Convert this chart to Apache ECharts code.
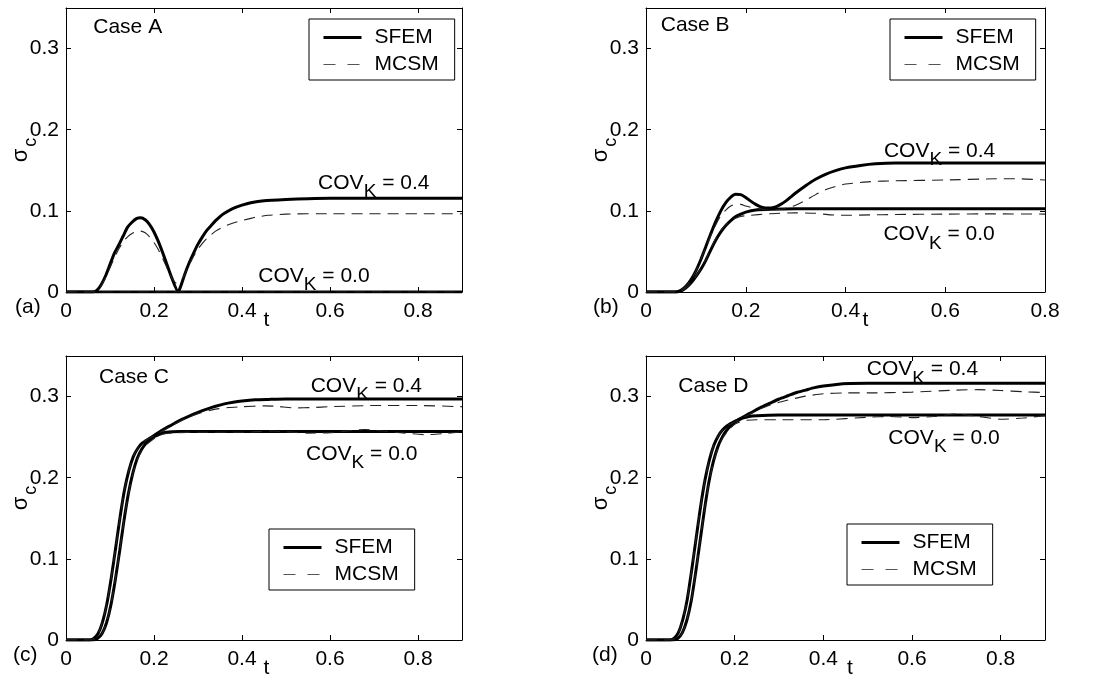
<!DOCTYPE html>
<html><head><meta charset="utf-8">
<script src="https://cdn.jsdelivr.net/npm/echarts@6/dist/echarts.min.js"></script>
<style>html,body{margin:0;padding:0;background:#fff}#c{width:1098px;height:680px}</style>
</head><body><div id="c"></div>
<script>
// ---------------- DATA ----------------
// Case A
const tA_SFEM_04 = [0,0.06,0.07,0.08,0.09,0.10,0.11,0.12,0.13,0.14,0.15,0.16,0.17,0.18,0.19,0.20,0.21,0.22,0.23,0.24,0.255,0.26,0.27,0.28,0.29,0.30,0.31,0.32,0.33,0.34,0.35,0.36,0.38,0.40,0.42,0.45,0.50,0.55,0.60,0.90];
const vA_SFEM_04 = [0,0,0.002,0.009,0.02,0.034,0.048,0.058,0.069,0.080,0.086,0.0905,0.0915,0.089,0.083,0.074,0.062,0.048,0.033,0.018,0,0.006,0.022,0.036,0.048,0.059,0.068,0.076,0.082,0.088,0.093,0.097,0.103,0.107,0.110,0.1125,0.114,0.115,0.1155,0.1155];
const tA_MCSM_04 = [0,0.06,0.07,0.08,0.09,0.10,0.11,0.12,0.13,0.14,0.15,0.16,0.17,0.18,0.19,0.20,0.21,0.22,0.23,0.24,0.25,0.26,0.27,0.28,0.29,0.30,0.31,0.32,0.34,0.36,0.38,0.40,0.43,0.46,0.50,0.60,0.90];
const vA_MCSM_04 = [0,0,0.002,0.008,0.018,0.03,0.042,0.053,0.062,0.068,0.072,0.0745,0.075,0.073,0.068,0.061,0.052,0.041,0.029,0.018,0.011,0.013,0.022,0.033,0.044,0.053,0.06,0.066,0.075,0.081,0.085,0.088,0.092,0.0945,0.096,0.0965,0.0965];
const tA_SFEM_00 = [0,0.9];
const vA_SFEM_00 = [0,0];
const tA_MCSM_00 = [0,0.9];
const vA_MCSM_00 = [0,0];
// Case B
const tB_SFEM_04 = [0,0.06,0.07,0.08,0.09,0.10,0.11,0.12,0.13,0.14,0.15,0.16,0.17,0.18,0.19,0.20,0.21,0.22,0.23,0.24,0.25,0.26,0.27,0.28,0.29,0.30,0.32,0.34,0.36,0.38,0.40,0.43,0.46,0.50,0.80];
const vB_SFEM_04 = [0,0,0.002,0.007,0.015,0.026,0.04,0.056,0.072,0.087,0.1,0.11,0.117,0.1205,0.12,0.1165,0.112,0.108,0.105,0.1035,0.1035,0.105,0.108,0.112,0.117,0.122,0.131,0.139,0.145,0.1495,0.153,0.156,0.158,0.159,0.159];
const tB_SFEM_00 = [0,0.06,0.07,0.08,0.09,0.10,0.11,0.12,0.13,0.14,0.15,0.16,0.17,0.18,0.19,0.20,0.22,0.25,0.30,0.80];
const vB_SFEM_00 = [0,0,0.001,0.005,0.011,0.019,0.028,0.039,0.052,0.064,0.074,0.082,0.088,0.093,0.096,0.0985,0.101,0.102,0.1025,0.1025];
const tB_MCSM_04 = [0,0.06,0.07,0.08,0.09,0.10,0.11,0.12,0.13,0.14,0.15,0.16,0.17,0.18,0.19,0.20,0.22,0.25,0.28,0.30,0.32,0.34,0.36,0.38,0.40,0.45,0.50,0.60,0.70,0.75,0.80];
const vB_MCSM_04 = [0,0,0.002,0.007,0.015,0.026,0.04,0.055,0.07,0.083,0.094,0.101,0.106,0.108,0.108,0.106,0.103,0.101,0.103,0.107,0.113,0.12,0.126,0.13,0.133,0.136,0.137,0.138,0.1395,0.1395,0.138];
const tB_MCSM_00 = [0,0.06,0.07,0.08,0.09,0.10,0.11,0.12,0.13,0.14,0.15,0.16,0.17,0.18,0.19,0.20,0.25,0.30,0.34,0.37,0.40,0.45,0.50,0.60,0.70,0.80];
const vB_MCSM_00 = [0,0,0.001,0.005,0.011,0.019,0.029,0.041,0.054,0.066,0.076,0.083,0.088,0.091,0.093,0.094,0.0965,0.0975,0.097,0.095,0.0945,0.095,0.0955,0.096,0.0963,0.096];
// Case C
const tC_SFEM_04 = [0,0.053,0.063,0.073,0.083,0.093,0.103,0.113,0.123,0.133,0.143,0.153,0.163,0.173,0.19,0.20,0.22,0.24,0.26,0.28,0.30,0.32,0.34,0.36,0.38,0.40,0.43,0.46,0.50,0.90];
const vC_SFEM_04 = [0,0,0.002,0.008,0.022,0.045,0.077,0.114,0.152,0.185,0.209,0.226,0.236,0.2425,0.2485,0.252,0.259,0.265,0.271,0.276,0.2805,0.2845,0.288,0.291,0.293,0.2945,0.296,0.2965,0.297,0.297];
const tC_SFEM_00 = [0,0.062,0.072,0.082,0.092,0.102,0.112,0.122,0.132,0.142,0.152,0.162,0.172,0.182,0.192,0.202,0.212,0.222,0.24,0.26,0.90];
const vC_SFEM_00 = [0,0,0.002,0.008,0.021,0.043,0.074,0.11,0.148,0.181,0.206,0.224,0.235,0.2425,0.247,0.251,0.2535,0.2555,0.2565,0.257,0.257];
const tC_MCSM_04 = [0,0.053,0.063,0.073,0.083,0.093,0.103,0.113,0.123,0.133,0.143,0.153,0.163,0.173,0.185,0.20,0.22,0.24,0.26,0.28,0.30,0.32,0.34,0.37,0.40,0.45,0.48,0.52,0.56,0.60,0.70,0.80,0.90];
const vC_MCSM_04 = [0,0,0.002,0.008,0.022,0.045,0.077,0.114,0.152,0.185,0.209,0.226,0.236,0.2425,0.2475,0.2515,0.258,0.264,0.27,0.275,0.279,0.282,0.2845,0.2865,0.2875,0.2885,0.288,0.286,0.2865,0.2875,0.289,0.289,0.2875];
const tC_MCSM_00 = [0,0.062,0.072,0.082,0.092,0.102,0.112,0.122,0.132,0.142,0.152,0.162,0.172,0.182,0.192,0.202,0.212,0.222,0.25,0.30,0.40,0.47,0.50,0.55,0.60,0.68,0.72,0.76,0.82,0.86,0.90];
const vC_MCSM_00 = [0,0,0.002,0.008,0.021,0.043,0.074,0.11,0.148,0.18,0.205,0.222,0.233,0.2405,0.245,0.249,0.252,0.254,0.2555,0.256,0.256,0.2575,0.2565,0.255,0.2555,0.2595,0.2575,0.2555,0.253,0.2545,0.2565];
// Case D
const tD_SFEM_04 = [0,0.053,0.063,0.073,0.083,0.093,0.103,0.113,0.123,0.133,0.143,0.153,0.163,0.173,0.183,0.20,0.22,0.24,0.26,0.28,0.30,0.32,0.34,0.36,0.38,0.40,0.43,0.46,0.50,0.90];
const vD_SFEM_04 = [0,0,0.002,0.009,0.025,0.05,0.086,0.125,0.164,0.197,0.222,0.24,0.2515,0.259,0.264,0.2695,0.275,0.281,0.287,0.292,0.297,0.301,0.305,0.308,0.311,0.313,0.315,0.316,0.3165,0.3165];
const tD_SFEM_00 = [0,0.062,0.072,0.082,0.092,0.102,0.112,0.122,0.132,0.142,0.152,0.162,0.172,0.182,0.192,0.202,0.212,0.222,0.232,0.25,0.30,0.90];
const vD_SFEM_00 = [0,0,0.002,0.009,0.024,0.048,0.083,0.122,0.161,0.195,0.22,0.238,0.25,0.2585,0.2645,0.269,0.272,0.274,0.2755,0.2765,0.2772,0.2772];
const tD_MCSM_04 = [0,0.053,0.063,0.073,0.083,0.093,0.103,0.113,0.123,0.133,0.143,0.153,0.163,0.173,0.183,0.20,0.22,0.25,0.28,0.30,0.33,0.36,0.40,0.45,0.50,0.60,0.70,0.75,0.80,0.85,0.90];
const vD_MCSM_04 = [0,0,0.002,0.009,0.025,0.05,0.086,0.125,0.164,0.197,0.222,0.24,0.2515,0.259,0.264,0.2685,0.2745,0.283,0.2895,0.293,0.297,0.3005,0.3035,0.3045,0.3045,0.3055,0.308,0.3085,0.3075,0.306,0.305];
const tD_MCSM_00 = [0,0.062,0.072,0.082,0.092,0.102,0.112,0.122,0.132,0.142,0.152,0.162,0.172,0.182,0.192,0.202,0.222,0.25,0.30,0.40,0.50,0.55,0.60,0.65,0.70,0.75,0.80,0.85,0.90];
const vD_MCSM_00 = [0,0,0.002,0.009,0.024,0.048,0.083,0.122,0.161,0.194,0.219,0.236,0.248,0.256,0.262,0.2665,0.2705,0.2715,0.2715,0.2715,0.2745,0.2755,0.274,0.2755,0.2785,0.2755,0.272,0.2735,0.2765];

// axis ranges and tick steps
const xMaxes = [0.9, 0.8, 0.9, 0.9];
const xStep = 0.2;
const yMax = 0.35;
const yStep = 0.1;
const caseNames = ['Case A', 'Case B', 'Case C', 'Case D'];
const panelTags = ['(a)', '(b)', '(c)', '(d)'];
const legendNames = ['SFEM', 'MCSM'];
const covHigh = 'COV_K = 0.4';
const covLow = 'COV_K = 0.0';
// annotation anchor points in data units [t, value]
const caseAt = [[0.062, 0.3265], [0.0295, 0.3286], [0.075, 0.3237], [0.073, 0.3128]];
const covHighAt = [[0.573, 0.134], [0.477, 0.1734], [0.556, 0.3125], [0.498, 0.3325]];
const covLowAt = [[0.437, 0.019], [0.476, 0.0705], [0.5455, 0.2286], [0.5467, 0.2484]];

// ---------------- LAYOUT / STYLE ----------------
const FONT = "'Liberation Sans', Arial, Helvetica, sans-serif";
const FS = 21;
const grids = [
  {left: 66, top: 8, width: 396, height: 284},
  {left: 646, top: 8, width: 399, height: 284},
  {left: 66, top: 356, width: 396, height: 285},
  {left: 646, top: 356, width: 399, height: 285}
];
const legendPos = [[309, 19], [890, 19], [269, 529], [847, 524]];
const tNamePad = [5, 40, 5, 9];
const tagPos = [[15, 307], [593, 307], [13, 655], [592, 655]];

function zip(t, v) { return t.map((x, i) => [x, v[i]]); }
const seriesData = [
  [zip(tA_SFEM_04, vA_SFEM_04), zip(tA_SFEM_00, vA_SFEM_00), zip(tA_MCSM_04, vA_MCSM_04), zip(tA_MCSM_00, vA_MCSM_00)],
  [zip(tB_SFEM_04, vB_SFEM_04), zip(tB_SFEM_00, vB_SFEM_00), zip(tB_MCSM_04, vB_MCSM_04), zip(tB_MCSM_00, vB_MCSM_00)],
  [zip(tC_SFEM_04, vC_SFEM_04), zip(tC_SFEM_00, vC_SFEM_00), zip(tC_MCSM_04, vC_MCSM_04), zip(tC_MCSM_00, vC_MCSM_00)],
  [zip(tD_SFEM_04, vD_SFEM_04), zip(tD_SFEM_00, vD_SFEM_00), zip(tD_MCSM_04, vD_MCSM_04), zip(tD_MCSM_00, vD_MCSM_00)]
];

const axisLine = {show: true, onZero: false, lineStyle: {color: '#000', width: 1}};
const axisTick = {show: true, inside: true, length: 5, lineStyle: {color: '#000', width: 1}};
const xAxes = [], yAxes = [], series = [], legends = [], graphics = [];
const covRich = {
  a: {fontSize: FS, fontFamily: FONT, color: '#000', lineHeight: 22, verticalAlign: 'top'},
  k: {fontSize: FS - 2, fontFamily: FONT, color: '#000', lineHeight: 22, verticalAlign: 'top', padding: [10, 0, 0, 0]}
};
function covText(s) {
  const p = s.split('_K');
  return '{a|' + p[0] + '}{k|K}{a|' + p[1] + '}';
}

grids.forEach((g, i) => {
  const xMax = xMaxes[i];
  xAxes.push({
    type: 'value', gridIndex: i, position: 'bottom', min: 0, max: xMax, interval: xStep,
    axisLine, axisTick, splitLine: {show: false},
    axisLabel: {color: '#000', fontSize: FS, fontFamily: FONT, margin: 9, showMaxLabel: Math.abs(xMax / xStep - Math.round(xMax / xStep)) < 1e-9},
    name: 't', nameLocation: 'middle', nameGap: 18, nameMoveOverlap: false,
    nameTextStyle: {color: '#000', fontSize: FS, fontFamily: FONT, padding: [0, 0, 0, tNamePad[i]]}
  });
  xAxes.push({
    type: 'value', gridIndex: i, position: 'top', min: 0, max: xMax, interval: xStep,
    axisLine, axisTick, splitLine: {show: false}, axisLabel: {show: false}
  });
  yAxes.push({
    type: 'value', gridIndex: i, position: 'left', min: 0, max: yMax, interval: yStep,
    axisLine, axisTick, splitLine: {show: false},
    axisLabel: {color: '#000', fontSize: FS, fontFamily: FONT, margin: 7, showMaxLabel: false},
    name: '{s|σ}{c|c}', nameLocation: 'middle', nameRotate: 90, nameGap: 34, nameMoveOverlap: false,
    nameTextStyle: {rich: {
      s: {fontSize: FS + 1, fontFamily: FONT, color: '#000', lineHeight: 22, verticalAlign: 'top'},
      c: {fontSize: FS - 3, fontFamily: FONT, color: '#000', lineHeight: 22, verticalAlign: 'top', padding: [12, 0, 0, 2]}
    }}
  });
  yAxes.push({
    type: 'value', gridIndex: i, position: 'right', min: 0, max: yMax, interval: yStep,
    axisLine, axisTick, splitLine: {show: false}, axisLabel: {show: false}
  });
  const xi = 2 * i, yi = 2 * i;
  const d = seriesData[i];
  const solid = {color: '#000', width: 3};
  const dashed = {color: '#222', width: 1.1, type: [11, 7]};
  series.push({
    name: 'SFEM', type: 'line', xAxisIndex: xi, yAxisIndex: yi, data: d[0], showSymbol: false, symbol: 'none',
    smooth: 0.2, lineStyle: solid, itemStyle: {color: '#000'}, z: 2, silent: true,
    markPoint: {
      symbol: 'circle', symbolSize: 0, silent: true,
      data: [
        {coord: covHighAt[i], label: {show: true, position: 'right', distance: 0, formatter: covText(covHigh), rich: covRich}},
        {coord: covLowAt[i], label: {show: true, position: 'right', distance: 0, formatter: covText(covLow), rich: covRich}},
        {coord: caseAt[i], label: {show: true, position: 'right', distance: 0, formatter: caseNames[i], color: '#000', fontSize: FS, fontFamily: FONT}}
      ]
    }
  });
  series.push({
    name: 'SFEM', type: 'line', xAxisIndex: xi, yAxisIndex: yi, data: d[1], showSymbol: false, symbol: 'none',
    smooth: 0.2, lineStyle: solid, itemStyle: {color: '#000'}, z: 2, silent: true
  });
  series.push({
    name: 'MCSM', type: 'line', xAxisIndex: xi, yAxisIndex: yi, data: d[2], showSymbol: false, symbol: 'none',
    smooth: 0.2, lineStyle: dashed, itemStyle: {color: '#222'}, z: 3, silent: true
  });
  series.push({
    name: 'MCSM', type: 'line', xAxisIndex: xi, yAxisIndex: yi, data: d[3], showSymbol: false, symbol: 'none',
    smooth: 0.2, lineStyle: dashed, itemStyle: {color: '#222'}, z: 3, silent: true
  });
  legends.push({
    data: [
      {name: legendNames[0], lineStyle: {width: 3, color: '#000', type: 'solid'}},
      {name: legendNames[1], lineStyle: {width: 1.2, color: '#555', type: [12, 12]}}
    ],
    orient: 'vertical', left: legendPos[i][0], top: legendPos[i][1],
    borderColor: '#000', borderWidth: 1, backgroundColor: '#fff', borderRadius: 0,
    padding: [8, 16, 5, 13], itemWidth: 38, itemHeight: 14, itemGap: 6, selectedMode: false,
    itemStyle: {opacity: 0, borderWidth: 0},
    textStyle: {color: '#000', fontSize: FS, fontFamily: FONT, padding: [0, 0, 0, 8]}
  });
  graphics.push({
    type: 'text', x: tagPos[i][0], y: tagPos[i][1],
    style: {text: panelTags[i], fill: '#000', font: FS + 'px ' + FONT, textVerticalAlign: 'middle', verticalAlign: 'middle'}
  });
});

const chart = echarts.init(document.getElementById('c'), null, {renderer: 'canvas'});
chart.setOption({
  animation: false,
  backgroundColor: '#fff',
  grid: grids.map(g => Object.assign({containLabel: false}, g)),
  xAxis: xAxes,
  yAxis: yAxes,
  legend: legends,
  series: series,
  graphic: graphics
});
</script>
</body></html>
